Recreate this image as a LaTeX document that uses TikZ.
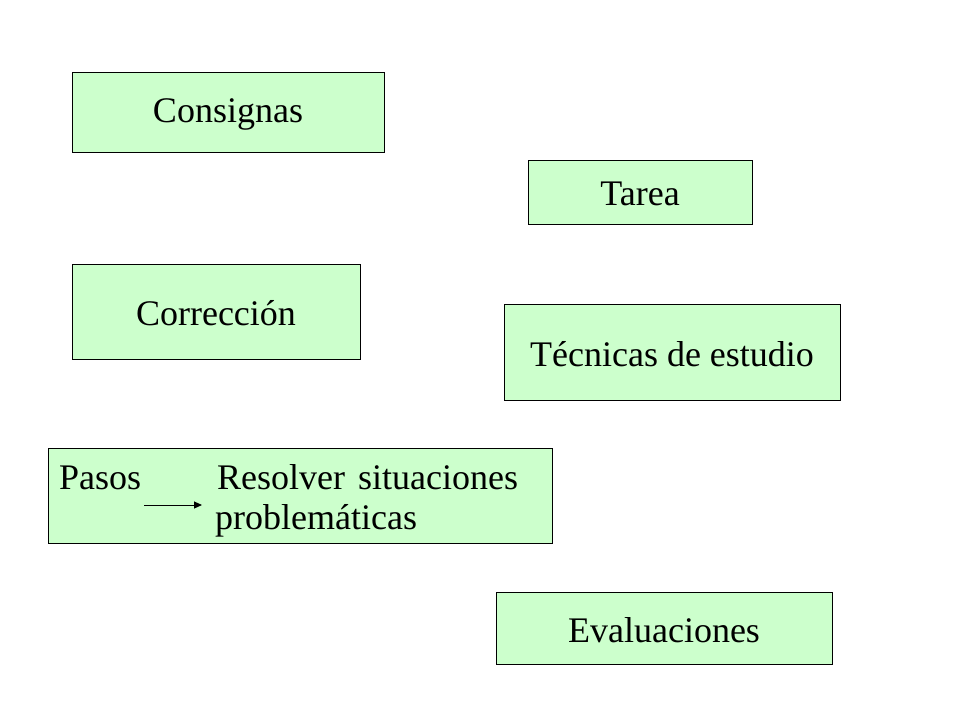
\documentclass[tikz,border=0pt]{standalone}
\usepackage{fontspec}
\setmainfont{Liberation Serif}
\usetikzlibrary{arrows.meta}
\definecolor{boxgreen}{HTML}{CCFFCC}
\begin{document}
\begin{tikzpicture}[x=1pt,y=-1pt,
  gbox/.style={draw=black,line width=1pt,fill=boxgreen},
  lbl/.style={font=\fontsize{36}{40}\selectfont,inner sep=0pt}]
\useasboundingbox[fill=white] (0,0) rectangle (960,720);
\draw[gbox] (72,72) rectangle (384,152) node[midway,lbl,yshift=-2pt] (consignas) {Consignas};
\draw[gbox] (528,160) rectangle (752,224) node[midway,lbl,yshift=-2pt] (tarea) {Tarea};
\draw[gbox] (72,264) rectangle (360,359) node[midway,lbl,yshift=-2pt] (correccion) {Corrección};
\draw[gbox] (504,304) rectangle (840,400) node[midway,lbl,yshift=-2pt] (tecnicas) {Técnicas de estudio};
\draw[gbox] (48,448) rectangle (552,543);
\node[lbl,anchor=base west] (pasos) at (59,489) {Pasos};
\node[lbl,anchor=base west] (resolver) at (217,489) {Resolver\hspace{4pt} situaciones};
\node[lbl,anchor=base west] (problem) at (215,529) {problemáticas};
\coordinate (a1) at (144,505);
\coordinate (a2) at (202,505);
\draw[line width=1pt,-{Triangle[length=8pt,width=7pt]}] (a1) -- (a2);
\draw[gbox] (496,592) rectangle (832,664) node[midway,lbl,yshift=-2pt] (evaluaciones) {Evaluaciones};
\end{tikzpicture}
\end{document}
